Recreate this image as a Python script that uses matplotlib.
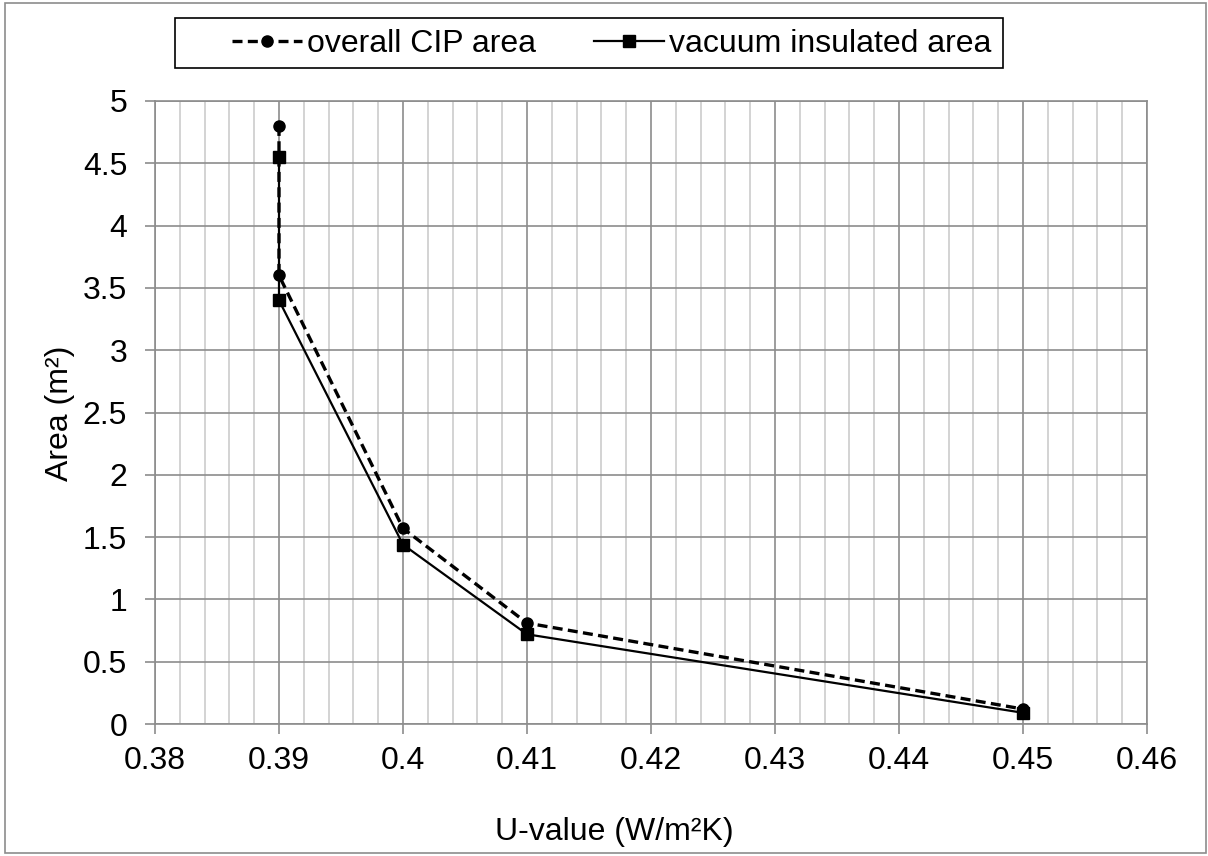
import matplotlib
matplotlib.use("Agg")
import matplotlib.pyplot as plt
from matplotlib.patches import Rectangle
from matplotlib.ticker import MultipleLocator

plt.rcParams['font.family'] = ['Liberation Sans', 'DejaVu Sans']

# data
u_overall = [0.39, 0.39, 0.40, 0.41, 0.45]
area_overall = [4.80, 3.60, 1.57, 0.81, 0.12]
u_vacuum = [0.39, 0.39, 0.40, 0.41, 0.45]
area_vacuum = [4.55, 3.40, 1.44, 0.72, 0.09]

W, H = 1208, 856
fig = plt.figure(figsize=(W / 100, H / 100), dpi=100)
ax = fig.add_axes([155 / W, 1 - 724 / H, (1147 - 155) / W, (724 - 101) / H])

ax.plot(u_overall, area_overall, color='black', linestyle=(0, (3, 1.6)), linewidth=2.4,
        marker='o', markersize=8, label='overall CIP area')
ax.plot(u_vacuum, area_vacuum, color='black', linestyle='-', linewidth=1.6,
        marker='s', markersize=9, label='vacuum insulated area')

ax.set_xlim(0.38, 0.46)
ax.set_ylim(0, 5)
ax.xaxis.set_major_locator(MultipleLocator(0.01))
ax.xaxis.set_minor_locator(MultipleLocator(0.002))
ax.yaxis.set_major_locator(MultipleLocator(0.5))
ax.set_xticklabels([f'{v:g}' for v in ax.get_xticks()])
ax.set_yticklabels([f'{v:g}' for v in ax.get_yticks()])

ax.grid(which='major', color='#8c8c8c', linewidth=1.2)
ax.grid(which='minor', axis='x', color='#cccccc', linewidth=1.2)
ax.set_axisbelow(True)

for s in ax.spines.values():
    s.set_color('#8c8c8c')
    s.set_linewidth(1.2)
ax.tick_params(axis='both', which='major', labelsize=23, color='#8c8c8c', width=1.2)
ax.tick_params(axis='x', which='major', length=7, pad=9)
ax.tick_params(axis='y', which='major', length=7, pad=13)
ax.tick_params(which='minor', length=0)

# axis titles
fig.text(614 / W, 1 - 832 / H, 'U-value (W/m²K)', fontsize=23, ha='center', va='center')
fig.text(60 / W, 1 - 413 / H, 'Area (m²)', fontsize=23, ha='center', va='center',
         rotation=90)

# legend without frame, box drawn separately
leg = ax.legend(loc='center left', bbox_to_anchor=(232 / W, 1 - 44 / H),
                bbox_transform=fig.transFigure, ncol=2, fontsize=23, frameon=False,
                handlelength=2.2, handletextpad=0.16, columnspacing=1.8,
                borderpad=0, borderaxespad=0)
fig.patches.append(Rectangle((175 / W, 1 - 68 / H), (1003 - 175) / W, 50 / H,
                             transform=fig.transFigure, fill=False,
                             edgecolor='black', linewidth=1.2))

# outer chart border
fig.patches.append(Rectangle((5 / W, 3 / H), 1201 / W, 850 / H, transform=fig.transFigure,
                             fill=False, edgecolor='#8c8c8c', linewidth=1.2))

fig.savefig('out.png', dpi=100)
